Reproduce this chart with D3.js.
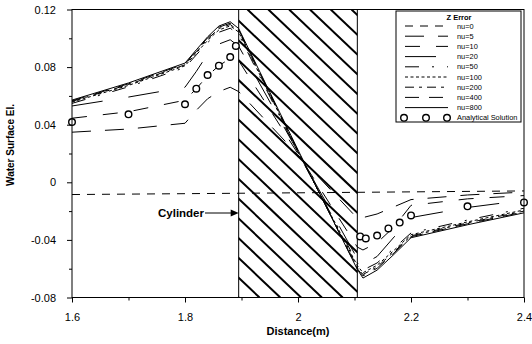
<!DOCTYPE html>
<html>
<head>
<meta charset="utf-8">
<script src="https://cdn.jsdelivr.net/npm/d3@7/dist/d3.min.js"></script>
<style>
  html, body { margin: 0; padding: 0; background: #fff; }
  svg { display: block; font-family: "Liberation Sans", Arial, sans-serif; }
</style>
</head>
<body>
<svg id="chart" width="532" height="344"></svg>
<script>
// ---------- data ----------
const distance = [1.6, 1.7, 1.8, 1.82, 1.84, 1.86, 1.88, 1.895, 2.0, 2.105, 2.115, 2.14, 2.17, 2.2, 2.3, 2.4];
const nu5   = [0.0348, 0.0370, 0.0410, 0.0500, 0.0580, 0.0630, 0.0660, 0.0630, 0.0190, -0.0250, -0.0245, -0.0220, -0.0170, -0.0120, -0.0088, -0.0068];
const nu10  = [0.0445, 0.0490, 0.0570, 0.0650, 0.0740, 0.0810, 0.0860, 0.0845, 0.0198, -0.0450, -0.0470, -0.0420, -0.0310, -0.0160, -0.0115, -0.0092];
const nu20  = [0.0530, 0.0592, 0.0660, 0.0770, 0.0890, 0.0960, 0.0990, 0.0945, 0.0210, -0.0530, -0.0570, -0.0515, -0.0380, -0.0245, -0.0175, -0.0125];
const nu50  = [0.0548, 0.0663, 0.0797, 0.0885, 0.0970, 0.1042, 0.1070, 0.1028, 0.0205, -0.0560, -0.0610, -0.0560, -0.0458, -0.0352, -0.0262, -0.0180];
const nu100 = [0.0557, 0.0673, 0.0809, 0.0898, 0.0985, 0.1058, 0.1086, 0.1043, 0.0212, -0.0578, -0.0628, -0.0576, -0.0472, -0.0364, -0.0275, -0.0192];
const nu200 = [0.0562, 0.0679, 0.0816, 0.0907, 0.0995, 0.1068, 0.1096, 0.1052, 0.0216, -0.0590, -0.0640, -0.0588, -0.0482, -0.0372, -0.0282, -0.0200];
const nu400 = [0.0566, 0.0684, 0.0822, 0.0914, 0.1003, 0.1077, 0.1105, 0.1060, 0.0220, -0.0600, -0.0650, -0.0597, -0.0490, -0.0378, -0.0288, -0.0206];
const nu800 = [0.0571, 0.0690, 0.0828, 0.0920, 0.1010, 0.1085, 0.1115, 0.1068, 0.0225, -0.0605, -0.0665, -0.0610, -0.0500, -0.0385, -0.0295, -0.0212];
const nu0Distance = [1.6, 2.0, 2.4];
const nu0 = [-0.0085, -0.0073, -0.0060];
const analyticalDistance = [1.6, 1.7, 1.8, 1.82, 1.84, 1.86, 1.88, 1.89, 2.11, 2.12, 2.14, 2.16, 2.18, 2.2, 2.3, 2.4];
const analytical = [0.0418, 0.0472, 0.0542, 0.0650, 0.0745, 0.0810, 0.0870, 0.0947, -0.0376, -0.0390, -0.0370, -0.0320, -0.0280, -0.0230, -0.0167, -0.0140];
const cylinder = [1.895, 2.105];
const xTicks = [1.6, 1.8, 2.0, 2.2, 2.4];
const xTickLabels = ["1.6", "1.8", "2", "2.2", "2.4"];
const xMinorTicks = [1.7, 1.9, 2.1, 2.3];
const yTicks = [0.12, 0.08, 0.04, 0, -0.04, -0.08];
const yTickLabels = ["0.12", "0.08", "0.04", "0", "-0.04", "-0.08"];
const yMinorTicks = [0.10, 0.06, 0.02, -0.02, -0.06];
const seriesNames = ["nu=0", "nu=5", "nu=10", "nu=20", "nu=50", "nu=100", "nu=200", "nu=400", "nu=800"];

// ---------- styles ----------
const dashes = {
  "nu=0": "8,7",
  "nu=5": "19,14",
  "nu=10": "15,16",
  "nu=20": "31,26",
  "nu=50": "14,13,2,13",
  "nu=100": "3,2.5",
  "nu=200": "9,5,3,5",
  "nu=400": "14,10",
  "nu=800": null
};
const series = [
  { name: "nu=0", xs: nu0Distance, ys: nu0 },
  { name: "nu=5", xs: distance, ys: nu5 },
  { name: "nu=10", xs: distance, ys: nu10 },
  { name: "nu=20", xs: distance, ys: nu20 },
  { name: "nu=50", xs: distance, ys: nu50 },
  { name: "nu=100", xs: distance, ys: nu100 },
  { name: "nu=200", xs: distance, ys: nu200 },
  { name: "nu=400", xs: distance, ys: nu400 },
  { name: "nu=800", xs: distance, ys: nu800 }
];

const svg = d3.select("#chart");
const L = 72, R = 524, T = 9.5, B = 297.5;
const x = d3.scaleLinear().domain([1.6, 2.4]).range([L, R]);
const y = d3.scaleLinear().domain([-0.08, 0.12]).range([B, T]);

// ---------- cylinder hatch ----------
const cx0 = x(cylinder[0]), cx1 = x(cylinder[1]);
svg.append("defs").append("clipPath").attr("id", "cyl")
  .append("rect").attr("x", cx0).attr("y", T).attr("width", cx1 - cx0).attr("height", B - T);
const hatch = svg.append("g").attr("clip-path", "url(#cyl)");
const spacing = 20.8, slope = 0.95;
for (let s = cx0 - (B - T) / slope - spacing * 2; s < cx1 + spacing; s += spacing) {
  hatch.append("line")
    .attr("x1", s).attr("y1", T)
    .attr("x2", s + (B - T) / slope).attr("y2", B)
    .attr("stroke", "#000").attr("stroke-width", 2);
}
svg.append("rect").attr("x", cx0).attr("y", T).attr("width", cx1 - cx0).attr("height", B - T)
  .attr("fill", "none").attr("stroke", "#000").attr("stroke-width", 1);

// ---------- curves ----------
const line = d3.line().x(d => x(d[0])).y(d => y(d[1]));
series.forEach(s => {
  const pts = s.xs.map((d, i) => [d, s.ys[i]]);
  svg.append("path").attr("d", line(pts))
    .attr("fill", "none").attr("stroke", "#000").attr("stroke-width", 1)
    .attr("stroke-dasharray", dashes[s.name]);
});

// analytical
svg.append("g").selectAll("circle").data(analyticalDistance.map((d, i) => [d, analytical[i]]))
  .join("circle")
  .attr("cx", d => x(d[0])).attr("cy", d => y(d[1])).attr("r", 3.3)
  .attr("fill", "#fff").attr("stroke", "#000").attr("stroke-width", 1.4);

// ---------- frame & axes ----------
svg.append("rect").attr("x", L).attr("y", T).attr("width", R - L).attr("height", B - T)
  .attr("fill", "none").attr("stroke", "#000").attr("stroke-width", 1);

const xAxis = svg.append("g").attr("transform", `translate(0,${B})`)
  .call(d3.axisBottom(x).tickValues(xTicks).tickFormat((d, i) => xTickLabels[i]).tickSize(5).tickPadding(11));
const xMinor = svg.append("g").attr("transform", `translate(0,${B})`)
  .call(d3.axisBottom(x).tickValues(xMinorTicks).tickFormat("").tickSize(3));
const yAxis = svg.append("g").attr("transform", `translate(${L},0)`)
  .call(d3.axisLeft(y).tickValues(yTicks).tickFormat((d, i) => yTickLabels[i]).tickSize(5).tickPadding(11));
const yMinor = svg.append("g").attr("transform", `translate(${L},0)`)
  .call(d3.axisLeft(y).tickValues(yMinorTicks).tickFormat("").tickSize(3));
[xAxis, xMinor, yAxis, yMinor].forEach(g => {
  g.select(".domain").remove();
  g.selectAll("text").attr("font-family", "Liberation Sans, Arial, sans-serif").attr("font-size", 11).attr("fill", "#000");
  g.selectAll("line").attr("stroke", "#000");
});

svg.append("text").attr("x", x(2.0)).attr("y", 335).attr("text-anchor", "middle")
  .attr("font-size", 11).attr("font-weight", "bold").attr("fill", "#000").text("Distance(m)");
svg.append("text").attr("transform", "translate(14,145) rotate(-90)").attr("text-anchor", "middle")
  .attr("font-size", 10).attr("font-weight", "bold").attr("fill", "#000").text("Water Surface El.");

// cylinder annotation
const ay = 213;
svg.append("text").attr("x", 204).attr("y", ay + 4).attr("text-anchor", "end")
  .attr("font-size", 11.5).attr("font-weight", "bold").attr("fill", "#000").text("Cylinder");
svg.append("line").attr("x1", 205).attr("y1", ay).attr("x2", cx0 - 6).attr("y2", ay)
  .attr("stroke", "#000").attr("stroke-width", 1);
svg.append("path").attr("d", `M${cx0},${ay} L${cx0 - 8},${ay - 3.5} L${cx0 - 8},${ay + 3.5} Z`).attr("fill", "#000");

// ---------- legend ----------
const lg = svg.append("g");
lg.append("rect").attr("x", 396).attr("y", 11).attr("width", 125).attr("height", 111)
  .attr("fill", "#fff").attr("stroke", "#000").attr("stroke-width", 1);
lg.append("text").attr("x", 459).attr("y", 19.5).attr("text-anchor", "middle")
  .attr("font-size", 7.5).attr("font-weight", "bold").attr("fill", "#000").text("Z Error");
seriesNames.forEach((n, i) => {
  const yy = 26 + i * 10.2;
  lg.append("line").attr("x1", 405).attr("x2", 448).attr("y1", yy).attr("y2", yy)
    .attr("stroke", "#000").attr("stroke-width", 1).attr("stroke-dasharray", dashes[n]);
  lg.append("text").attr("x", 457).attr("y", yy + 2.6).attr("font-size", 7.4).attr("fill", "#000").text(n);
});
const ay2 = 26 + 9 * 10.2;
[404, 426, 447].forEach(cx => {
  lg.append("circle").attr("cx", cx).attr("cy", ay2).attr("r", 3.3)
    .attr("fill", "#fff").attr("stroke", "#000").attr("stroke-width", 1.4);
});
lg.append("text").attr("x", 457).attr("y", ay2 + 2.6).attr("font-size", 7.4).attr("fill", "#000").text("Analytical Solution");
</script>
</body>
</html>
